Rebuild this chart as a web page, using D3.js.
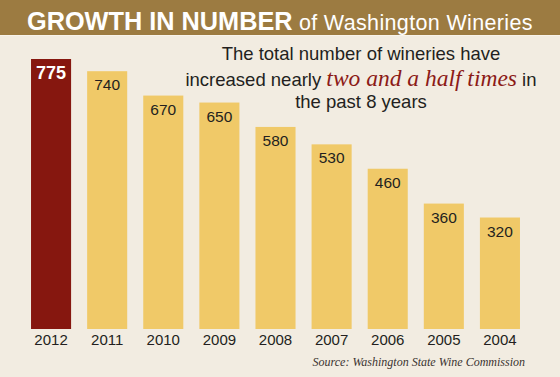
<!DOCTYPE html>
<html>
<head>
<meta charset="utf-8">
<script src="https://cdn.jsdelivr.net/npm/d3@7"></script>
<style>
  html, body { margin: 0; padding: 0; background: #f2ece1; }
  #chart { width: 560px; height: 377px; }
</style>
</head>
<body>
<div id="chart"></div>
<script>
const years = ['2012', '2011', '2010', '2009', '2008', '2007', '2006', '2005', '2004'];
const wineries = [775, 740, 670, 650, 580, 530, 460, 360, 320];
const highlightYear = '2012';

const titleBold = 'GROWTH IN NUMBER';
const titleRest = ' of Washington Wineries';
const noteLines = [
    ['The total number of wineries have'],
    ['increased nearly ', 'two and a half times', ' in'],
    ['the past 8 years']
];
const sourceText = 'Source: Washington State Wine Commission';

const data = years.map((y, i) => {
    return { name: y, value: wineries[i] };
});

const el = document.getElementById('chart');
const W = 560, H = 377;
const sans = '"Liberation Sans", Arial, Helvetica, sans-serif';
const serif = '"Liberation Serif", "Times New Roman", serif';

const svg = d3.select(el)
    .append('svg')
    .attr('width', W)
    .attr('height', H);

svg.append('rect')
    .attr('width', W)
    .attr('height', H)
    .attr('fill', '#f2ece1');

// 标题栏
svg.append('rect')
    .attr('width', W)
    .attr('height', 35)
    .attr('fill', '#9c7b41');
svg.append('rect')
    .attr('y', 35)
    .attr('width', W)
    .attr('height', 1)
    .attr('fill', '#f8f3ea');

const title = svg.append('text')
    .attr('x', 27)
    .attr('y', 30)
    .attr('fill', '#ffffff')
    .style('font-family', sans);
title.append('tspan')
    .style('font-weight', 'bold')
    .style('font-size', '25.3px')
    .text(titleBold);
title.append('tspan')
    .style('font-size', '21.5px')
    .style('letter-spacing', '0.35px')
    .text(titleRest);

// 比例尺
const xScale = d3.scaleBand()
    .domain(years)
    .range([23, 528])
    .paddingInner(0.286)
    .paddingOuter(0.143);

const yScale = d3.scaleLinear()
    .domain([0, 775])
    .range([329, 59]);

// 柱子
svg.selectAll('.column')
    .data(data)
    .enter()
    .append('rect')
    .classed('column', true)
    .attr('x', (d) => xScale(d.name))
    .attr('y', (d) => yScale(d.value))
    .attr('width', xScale.bandwidth())
    .attr('height', (d) => yScale(0) - yScale(d.value))
    .attr('fill', (d) => d.name === highlightYear ? '#86170f' : '#f0c968');

// 数值
svg.selectAll('.value')
    .data(data)
    .enter()
    .append('text')
    .classed('value', true)
    .attr('x', (d) => xScale(d.name) + xScale.bandwidth() / 2)
    .attr('y', (d) => yScale(d.value) + (d.name === highlightYear ? 20 : 19))
    .attr('text-anchor', 'middle')
    .attr('fill', (d) => d.name === highlightYear ? '#ffffff' : '#231f20')
    .style('font-family', sans)
    .style('font-size', (d) => d.name === highlightYear ? '18px' : '15.5px')
    .style('font-weight', (d) => d.name === highlightYear ? 'bold' : 'normal')
    .text((d) => d.value);

// x 轴
const xAxis = d3.axisBottom(xScale).tickSize(0).tickPadding(0);
const gx = svg.append('g')
    .attr('transform', `translate(0, ${yScale(0)})`)
    .call(xAxis);
gx.select('.domain').remove();
gx.selectAll('text')
    .attr('dy', null)
    .attr('y', 16)
    .attr('fill', '#231f20')
    .style('font-family', sans)
    .style('font-size', '15px');

// 说明文字
const note = svg.append('text')
    .attr('text-anchor', 'middle')
    .attr('fill', '#231f20')
    .style('font-family', sans)
    .style('font-size', '18.5px');
const lineY = [60, 86, 108];
noteLines.forEach((parts, i) => {
    parts.forEach((p, j) => {
        const t = note.append('tspan').text(p);
        if (j === 0) t.attr('x', 361).attr('y', lineY[i]);
        if (parts.length === 3 && j === 1) {
            t.style('font-family', serif)
                .style('font-style', 'italic')
                .style('font-size', '23.5px')
                .attr('fill', '#8c1a17');
        }
    });
});

// 来源
svg.append('text')
    .attr('x', 525)
    .attr('y', 366)
    .attr('text-anchor', 'end')
    .attr('fill', '#3a3330')
    .style('font-family', serif)
    .style('font-style', 'italic')
    .style('font-size', '12px')
    .text(sourceText);
</script>
</body>
</html>
